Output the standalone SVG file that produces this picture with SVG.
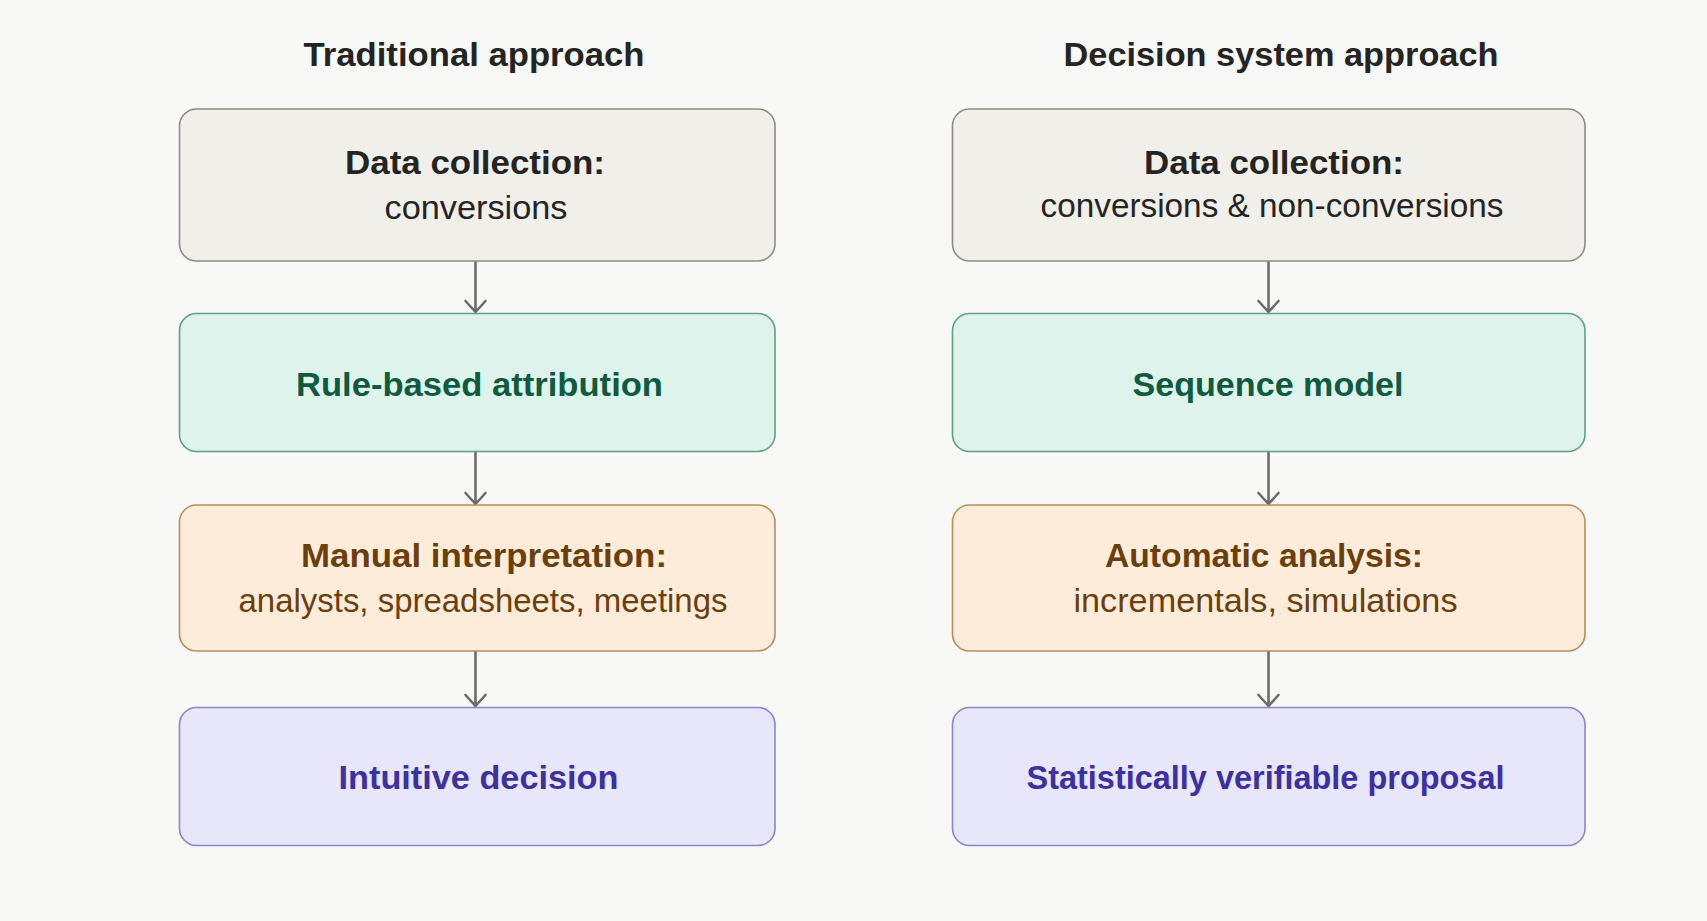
<svg xmlns="http://www.w3.org/2000/svg" width="1707" height="921" viewBox="0 0 1707 921">
<style>
text{font-family:"Liberation Sans",Arial,sans-serif;text-anchor:middle}
.title{font-size:34px;font-weight:bold;fill:#242424}
.h{font-size:34px;font-weight:bold}
.s{font-size:34px}
.gray rect{fill:#f1efea;stroke:#8c8b87;stroke-width:1.6}
.gray text{fill:#242424}
.teal rect{fill:#ddf3eb;stroke:#5f9f8a;stroke-width:1.6}
.teal text{fill:#0f5a40}
.tan rect{fill:#fcecd9;stroke:#b98d5a;stroke-width:1.6}
.tan text{fill:#6b3f0c}
.lav rect{fill:#e8e6fa;stroke:#8c83d2;stroke-width:1.6}
.lav text{fill:#3c30a3}
.conn path{fill:none;stroke:#6b6b6b;stroke-width:2.6;stroke-linecap:round;stroke-linejoin:round}
</style>
<rect width="1707" height="921" fill="#f8f8f7"/>
<g id="titles">
<text class="title" x="474" y="66" textLength="341" lengthAdjust="spacingAndGlyphs">Traditional approach</text>
<text class="title" x="1281" y="66" textLength="435" lengthAdjust="spacingAndGlyphs">Decision system approach</text>
</g>
<g id="connectors" class="conn">
<path d="M475.5 262V312M465.5 301L475.5 312L485.5 301"/>
<path d="M475.5 452V504M465.5 493L475.5 504L485.5 493"/>
<path d="M475.5 651V706M465.5 695L475.5 706L485.5 695"/>
<path d="M1268.5 262V312M1258.5 301L1268.5 312L1278.5 301"/>
<path d="M1268.5 452V504M1258.5 493L1268.5 504L1278.5 493"/>
<path d="M1268.5 651V706M1258.5 695L1268.5 706L1278.5 695"/>
</g>
<g id="l1" class="gray">
<rect x="179.5" y="109" width="595.5" height="152" rx="17"/>
<text class="h" x="475" y="174" textLength="260" lengthAdjust="spacingAndGlyphs">Data collection:</text>
<text class="s" x="476" y="219" textLength="183" lengthAdjust="spacingAndGlyphs">conversions</text>
</g>
<g id="l2" class="teal">
<rect x="179.5" y="313.5" width="595.5" height="138" rx="17"/>
<text class="h" x="479.5" y="396" textLength="367" lengthAdjust="spacingAndGlyphs">Rule-based attribution</text>
</g>
<g id="l3" class="tan">
<rect x="179.5" y="505" width="595.5" height="146" rx="17"/>
<text class="h" x="484" y="567" textLength="366" lengthAdjust="spacingAndGlyphs">Manual interpretation:</text>
<text class="s" x="483" y="612" textLength="489" lengthAdjust="spacingAndGlyphs">analysts, spreadsheets, meetings</text>
</g>
<g id="l4" class="lav">
<rect x="179.5" y="707.5" width="595.5" height="138" rx="17"/>
<text class="h" x="478.5" y="789" textLength="280" lengthAdjust="spacingAndGlyphs">Intuitive decision</text>
</g>
<g id="r1" class="gray">
<rect x="952.5" y="109" width="632.5" height="152" rx="17"/>
<text class="h" x="1274" y="174" textLength="260" lengthAdjust="spacingAndGlyphs">Data collection:</text>
<text class="s" x="1272" y="216.5" textLength="463" lengthAdjust="spacingAndGlyphs">conversions &amp; non-conversions</text>
</g>
<g id="r2" class="teal">
<rect x="952.5" y="313.5" width="632.5" height="138" rx="17"/>
<text class="h" x="1268" y="396" textLength="271" lengthAdjust="spacingAndGlyphs">Sequence model</text>
</g>
<g id="r3" class="tan">
<rect x="952.5" y="505" width="632.5" height="146" rx="17"/>
<text class="h" x="1264" y="567" textLength="318" lengthAdjust="spacingAndGlyphs">Automatic analysis:</text>
<text class="s" x="1265.5" y="612" textLength="384" lengthAdjust="spacingAndGlyphs">incrementals, simulations</text>
</g>
<g id="r4" class="lav">
<rect x="952.5" y="707.5" width="632.5" height="138" rx="17"/>
<text class="h" x="1265.5" y="789" textLength="478" lengthAdjust="spacingAndGlyphs">Statistically verifiable proposal</text>
</g>
</svg>
